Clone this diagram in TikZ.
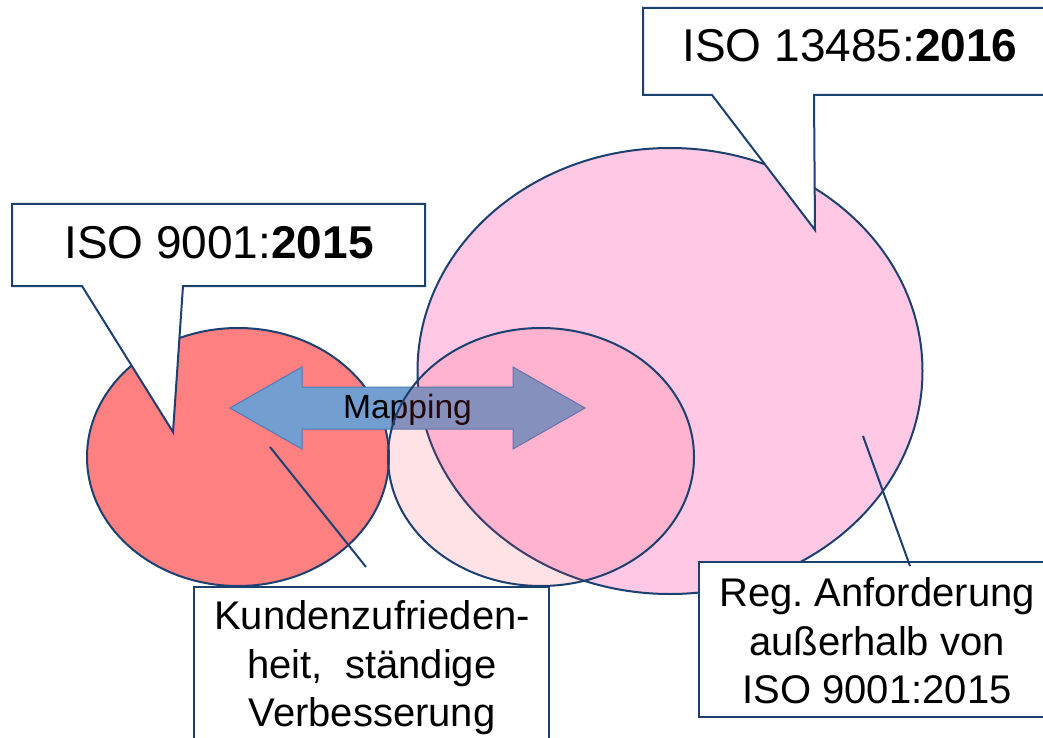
\documentclass[tikz,border=0pt]{standalone}
\usepackage{fontspec}
\setmainfont{Liberation Sans}
\usetikzlibrary{shapes.geometric}
\definecolor{navy}{HTML}{1C4070}
\definecolor{redfill}{HTML}{FF8080}
\definecolor{pinkfill}{HTML}{FFC8E4}
\definecolor{midfill}{RGB}{255,55,76}
\definecolor{arrowfill}{HTML}{729FCF}
\definecolor{arrowline}{HTML}{4A7EBB}
\frenchspacing
\begin{document}
\begin{tikzpicture}[x=0.75pt,y=-0.75pt,
  outl/.style={draw=navy, line width=1.5pt},
  ell/.style={ellipse, outl, inner sep=0pt},
  boxline/.style={draw=navy, line width=1.5pt, fill=white, line join=miter},
  title/.style={font=\fontsize{34.5}{40}\selectfont, inner sep=0pt},
  body/.style={font=\fontsize{30}{36.4}\selectfont, align=center, inner sep=0pt},
  leader/.style={draw=navy, line width=1.5pt}]
\clip (0,0) rectangle (1043,738);
\fill[white] (0,0) rectangle (1043,738);
% ellipses
\node[ell, fill=redfill, minimum width=226.5pt, minimum height=193.5pt] (red) at (238,457) {};
\node[ell, fill=pinkfill, minimum width=378.75pt, minimum height=334.5pt] (big) at (670,371) {};
% mapping arrow
\draw[fill=arrowfill, draw=arrowline, line width=0.75pt, line join=miter]
  (230,408) -- (302,367) -- (302,387) -- (513,387) -- (513,367) -- (585,408)
  -- (513,449) -- (513,429) -- (302,429) -- (302,449) -- cycle;
\node[font=\fontsize{25.2}{30}\selectfont, inner sep=0pt] (map) at (407.5,410) {Mapping};
% middle (overlap) ellipse
\node[ell, fill=midfill, fill opacity=0.14, minimum width=229.5pt, minimum height=193.5pt] (mid) at (541,457) {};
% callout ISO 9001
\draw[boxline] (12,204) -- (425,204) -- (425,286) -- (183,286) -- (173,432) -- (82,286) -- (12,286) -- cycle;
\node[title] (t9001) at (219,243) {ISO 9001:\textbf{2015}};
% callout ISO 13485
\draw[boxline] (643,8) -- (1057,8) -- (1057,95) -- (814,95) -- (815,230) -- (712,95) -- (643,95) -- cycle;
\node[title] (t13485) at (850,46) {ISO 13485:\textbf{2016}};
% Kundenzufriedenheit box
\draw[boxline] (194,587) rectangle (549,760);
\node[body] (kunde) at (372,668) {Kundenzufrieden-\\heit,~ ständige\\Verbesserung};
\coordinate (kA) at (270,447);
\coordinate (kB) at (366,567);
\draw[leader] (kA) -- (kB);
% Reg. Anforderung box
\draw[boxline] (699,562) rectangle (1055,717);
\node[body] (reg) at (877,641) {Reg. Anforderung\\außerhalb von\\ISO 9001:2015};
\coordinate (rA) at (863,436);
\coordinate (rB) at (910,566);
\draw[leader] (rA) -- (rB);
\end{tikzpicture}
\end{document}
